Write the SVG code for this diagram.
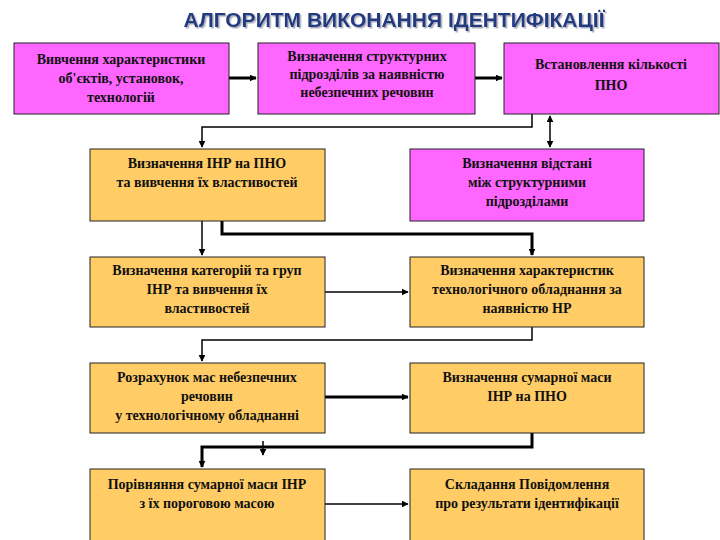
<svg xmlns="http://www.w3.org/2000/svg" width="720" height="540" viewBox="0 0 720 540">
<style>
.m{fill:#FF66FF;stroke:#222;stroke-width:1}
.o{fill:#FFCC66;stroke:#222;stroke-width:1}
.n text{font-family:'Liberation Serif','DejaVu Serif',serif;font-weight:bold;font-size:14px;fill:#111;text-anchor:middle}
.c path{fill:none;stroke:#000;stroke-width:1.5}
.c .t{stroke-width:3}
</style>
<defs><marker id="a" viewBox="0 0 10 10" refX="9" refY="5" markerWidth="7" markerHeight="7" markerUnits="userSpaceOnUse" orient="auto-start-reverse"><path d="M0,0L10,5L0,10z" fill="#000"/></marker>
<filter id="sh"><feDropShadow dx="1.5" dy="1.5" stdDeviation="0.5" flood-color="#99a" flood-opacity="0.8"/></filter></defs>
<rect width="720" height="540" fill="#fff"/>
<text x="394" y="27" filter="url(#sh)" style="font-family:'Liberation Sans',sans-serif;font-weight:bold;font-size:21px;fill:#203A80;text-anchor:middle">АЛГОРИТМ ВИКОНАННЯ ІДЕНТИФІКАЦІЇ</text>
<g class="c">
<path class="t" d="M229,78H256" marker-end="url(#a)"/>
<path class="t" d="M475,78H502" marker-end="url(#a)"/>
<path d="M532,114V127H202V147" marker-end="url(#a)"/>
<path d="M550,116V147" marker-start="url(#a)" marker-end="url(#a)"/>
<path d="M202,221V255" marker-end="url(#a)"/>
<path class="t" d="M222,221V234H532V255" marker-end="url(#a)"/>
<path d="M325,292H408" marker-end="url(#a)"/>
<path d="M532,327V340H202V361" marker-end="url(#a)"/>
<path class="t" d="M325,397H408" marker-end="url(#a)"/>
<path class="t" d="M532,433V447H202V467" marker-end="url(#a)"/>
<path d="M263,441V455" marker-end="url(#a)"/>
<path d="M325,504H408" marker-end="url(#a)"/>
</g>
<g class="n">
<g id="n1"><rect class="m" x="14" y="43" width="215" height="71"/><text x="121" y="64">Вивчення характеристики</text><text x="121" y="83">об'єктів, установок,</text><text x="121" y="102">технологій</text></g>
<g id="n2"><rect class="m" x="258" y="43" width="217" height="71"/><text x="367" y="61">Визначення структурних</text><text x="367" y="79">підрозділів за наявністю</text><text x="367" y="97">небезпечних речовин</text></g>
<g id="n3"><rect class="m" x="504" y="43" width="215" height="71"/><text x="611" y="69">Встановлення кількості</text><text x="611" y="90">ПНО</text></g>
<g id="n4"><rect class="o" x="90" y="149" width="235" height="72"/><text x="207" y="168">Визначення ІНР на ПНО</text><text x="207" y="187">та вивчення  їх властивостей</text></g>
<g id="n5"><rect class="m" x="410" y="149" width="234" height="72"/><text x="527" y="168">Визначення відстані</text><text x="527" y="187">між структурними</text><text x="527" y="206">підрозділами</text></g>
<g id="n6"><rect class="o" x="90" y="257" width="235" height="70"/><text x="207" y="275">Визначення категорій та груп</text><text x="207" y="294">ІНР та вивчення їх</text><text x="207" y="313">властивостей</text></g>
<g id="n7"><rect class="o" x="410" y="257" width="234" height="70"/><text x="527" y="275">Визначення характеристик</text><text x="527" y="294">технологічного обладнання за</text><text x="527" y="313">наявністю НР</text></g>
<g id="n8"><rect class="o" x="90" y="363" width="235" height="70"/><text x="207" y="382">Розрахунок мас небезпечних</text><text x="207" y="401">речовин</text><text x="207" y="420">у технологічному обладнанні</text></g>
<g id="n9"><rect class="o" x="410" y="363" width="234" height="70"/><text x="527" y="382">Визначення сумарної маси</text><text x="527" y="401">ІНР на ПНО</text></g>
<g id="n10"><rect class="o" x="90" y="469" width="235" height="80"/><text x="207" y="489">Порівняння сумарної маси ІНР</text><text x="207" y="508">з їх пороговою масою</text></g>
<g id="n11"><rect class="o" x="410" y="469" width="234" height="80"/><text x="527" y="489">Складання Повідомлення</text><text x="527" y="508">про результати ідентифікації</text></g>
</g>
</svg>
